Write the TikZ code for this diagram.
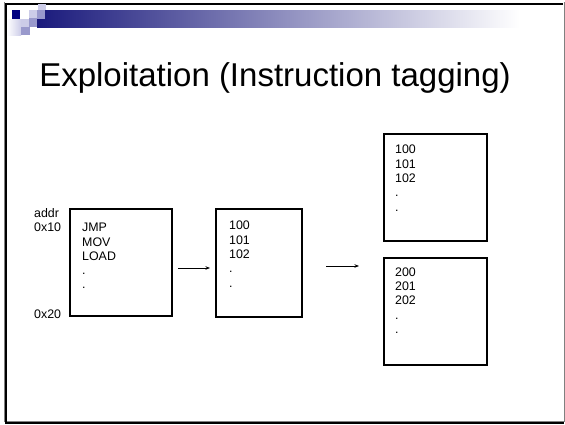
\documentclass[tikz,border=0pt]{standalone}
\usepackage{fontspec}
\setmainfont{Liberation Sans}
\usetikzlibrary{arrows.meta}
\definecolor{navy}{HTML}{000080}
\definecolor{barnavy}{HTML}{1A1A7C}
\definecolor{medsq}{HTML}{9999CC}
\definecolor{lightsq}{HTML}{CCCCE8}
\definecolor{framegray}{HTML}{808080}
\tikzset{
  memcell/.style={draw, line width=2pt, anchor=north west, inner sep=0pt,
    minimum width=102pt, minimum height=107pt},
  listing/.style={anchor=north west, inner sep=0pt, align=left,
    font=\fontsize{12.4}{14.3}\selectfont},
  label/.style={anchor=base west, inner sep=0pt, font=\fontsize{12.4}{14}\selectfont},
  flow/.style={line width=0.7pt, -{Stealth[length=4.5pt,width=3.5pt]}}
}
\begin{document}
\begin{tikzpicture}[x=1pt, y=-1pt]
\useasboundingbox (0,0) rectangle (565,424);
\fill[white] (0,0) rectangle (565,424);

% slide frame
\draw[framegray, line width=1pt] (4,2) -- (4,421) -- (564,421) -- (564,2);
\draw[black, line width=2pt] (6,423) -- (6,3.5) -- (563,3.5);
\draw[black, line width=2pt] (5,423) -- (564,423);

% header band with its square ornament
\shade[left color=barnavy, middle color=barnavy!45!white, right color=white]
  (37,10) rectangle (520,27);
\fill[navy] (12,10) rectangle (20,19);
\fill[lightsq] (29,10) rectangle (37,18);
\fill[medsq] (37,10) rectangle (45,19);
\fill[lightsq] (38,4) rectangle (46,10);
\shade[left color=white, right color=lightsq] (7,19) rectangle (21,35);
\fill[lightsq] (21,19) rectangle (29,27);
\fill[medsq] (29,18) rectangle (37,27);
\fill[medsq] (21,27) rectangle (30,35);

% title
\node[anchor=base, inner sep=0pt, font=\fontsize{33}{38}\selectfont]
  (title) at (275,86) {Exploitation (Instruction tagging)};

% memory and tag tables
\node[memcell] (code) at (69,208) {};
\node[memcell, minimum width=86pt, minimum height=108pt] (tags) at (215,208) {};
\node[memcell, minimum width=103pt] (tagsA) at (383,133) {};
\node[memcell, minimum width=103pt] (tagsB) at (383,257) {};

\node[listing] (codetxt) at (82,223) {JMP\\MOV\\LOAD\\.\\.};
\node[listing] (tagstxt) at (229,221) {100\\101\\102\\.\\.};
\node[listing] (tagsAtxt) at (395,145) {100\\101\\102\\.\\.};
\node[listing] (tagsBtxt) at (395,267.5) {200\\201\\202\\.\\.};

% address labels
\node[label] (addr) at (34,217.5) {addr};
\node[label] (lo) at (34,231) {0x10};
\node[label] (hi) at (34,318) {0x20};

% arrows
\coordinate (a1s) at (178,268);
\coordinate (a1e) at (210,268);
\coordinate (a2s) at (326,266);
\coordinate (a2e) at (359,266);
\draw[flow] (a1s) -- (a1e);
\draw[flow] (a2s) -- (a2e);
\end{tikzpicture}
\end{document}
